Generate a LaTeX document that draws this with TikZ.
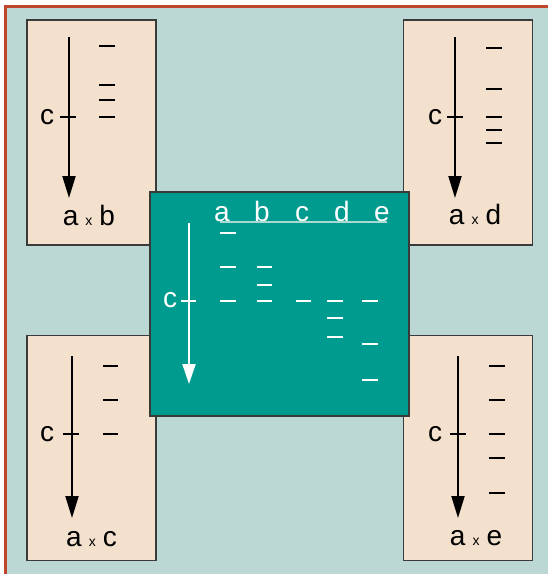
\documentclass[tikz,border=0pt]{standalone}
\usepackage{fontspec}
\setmainfont{Liberation Sans}
\usetikzlibrary{arrows.meta}
\definecolor{bg}{HTML}{BBD8D4}
\definecolor{panelc}{HTML}{F3E0CD}
\definecolor{midc}{HTML}{009B8F}
\definecolor{framec}{HTML}{C0452A}
\definecolor{rulec}{HTML}{A8D8D2}
\definecolor{edgec}{HTML}{3A3A3A}
\newcommand{\prodlabel}[2]{#1\hspace{7pt}{\fontsize{14}{14}\selectfont x}\hspace{7pt}#2}
\begin{document}
\begin{tikzpicture}[x=1pt,y=-1pt,
  panelbox/.style={draw=edgec, fill=panelc, line width=1.3pt, minimum width=129pt, minimum height=225pt, inner sep=0pt},
  midbox/.style={draw=edgec, fill=midc, line width=1.3pt, minimum width=259pt, minimum height=224pt, inner sep=0pt},
  bigtxt/.style={inner sep=0pt, font=\fontsize{28}{32}\selectfont},
  barb/.style={line width=2pt, black},
  barw/.style={line width=2pt, white},
  arrb/.style={line width=2pt, black, -{Triangle[length=22pt,width=13pt]}},
  arrw/.style={line width=2pt, white, -{Triangle[length=20pt,width=13pt]}},
  tickb/.style={line width=1.6pt, black},
  tickw/.style={line width=1.6pt, white}]
\useasboundingbox (0,0) rectangle (548,574);
\fill[bg] (6,7) rectangle (548,574);
\draw[framec, line width=3.5pt] (5.5,574) -- (5.5,6.5) -- (548,6.5);

% ---------- top-left panel (a x b)
\node[panelbox] (p1) at (91.5,132.5) {};
\coordinate (p1s) at (69,37); \coordinate (p1e) at (69,198);
\draw[arrb] (p1s) -- (p1e);
\coordinate (p1ta) at (60,117); \coordinate (p1tb) at (76,117);
\draw[tickb] (p1ta) -- (p1tb);
\node[bigtxt] (p1c) at (47,117) {c};
\foreach \y in {46,85,100,117} \draw[barb] (99,\y) -- (115,\y);
\node[bigtxt, anchor=base] (p1l) at (89,225) {\prodlabel{a}{b}};

% ---------- top-right panel (a x d)
\node[panelbox] (p2) at (468,132.5) {};
\coordinate (p2s) at (455,37); \coordinate (p2e) at (455,198);
\draw[arrb] (p2s) -- (p2e);
\coordinate (p2ta) at (447,117); \coordinate (p2tb) at (463,117);
\draw[tickb] (p2ta) -- (p2tb);
\node[bigtxt] (p2c) at (435,117) {c};
\foreach \y in {48,89,117,130,143} \draw[barb] (486,\y) -- (502,\y);
\node[bigtxt, anchor=base] (p2l) at (475,224) {\prodlabel{a}{d}};

% ---------- bottom-left panel (a x c)
\node[panelbox] (p3) at (91.5,448) {};
\coordinate (p3s) at (72,356); \coordinate (p3e) at (72,518);
\draw[arrb] (p3s) -- (p3e);
\coordinate (p3ta) at (63,434); \coordinate (p3tb) at (79,434);
\draw[tickb] (p3ta) -- (p3tb);
\node[bigtxt] (p3c) at (47,434) {c};
\foreach \y in {366,400,434} \draw[barb] (103,\y) -- (118,\y);
\node[bigtxt, anchor=base] (p3l) at (91.5,546) {\prodlabel{a}{c}};

% ---------- bottom-right panel (a x e)
\node[panelbox] (p4) at (468,448) {};
\coordinate (p4s) at (458,356); \coordinate (p4e) at (458,518);
\draw[arrb] (p4s) -- (p4e);
\coordinate (p4ta) at (450,434); \coordinate (p4tb) at (466,434);
\draw[tickb] (p4ta) -- (p4tb);
\node[bigtxt] (p4c) at (435,434) {c};
\foreach \y in {366,400,434,458,493} \draw[barb] (489,\y) -- (505,\y);
\node[bigtxt, anchor=base] (p4l) at (476,545) {\prodlabel{a}{e}};

% ---------- central panel
\node[midbox] (m) at (279.5,304) {};
\foreach \l/\x in {a/222,b/262,c/302,d/342,e/382}
  \node[bigtxt, anchor=base, text=white] (h\l) at (\x,221) {\l};
\coordinate (ua) at (220,222); \coordinate (ub) at (387,222);
\draw[rulec, line width=1.3pt] (ua) -- (ub);
\coordinate (ms) at (189,223); \coordinate (me) at (189,384);
\draw[arrw] (ms) -- (me);
\coordinate (mta) at (181,301); \coordinate (mtb) at (196,301);
\draw[tickw] (mta) -- (mtb);
\node[bigtxt, text=white] (mc) at (170,300) {c};
\foreach \y in {233,267,301} \draw[barw] (220,\y) -- (236,\y);
\foreach \y in {267,285,301} \draw[barw] (257,\y) -- (272,\y);
\foreach \y in {301} \draw[barw] (296,\y) -- (311,\y);
\foreach \y in {301,318,337} \draw[barw] (327,\y) -- (343,\y);
\foreach \y in {301,344,380} \draw[barw] (362,\y) -- (378,\y);
\end{tikzpicture}
\end{document}
